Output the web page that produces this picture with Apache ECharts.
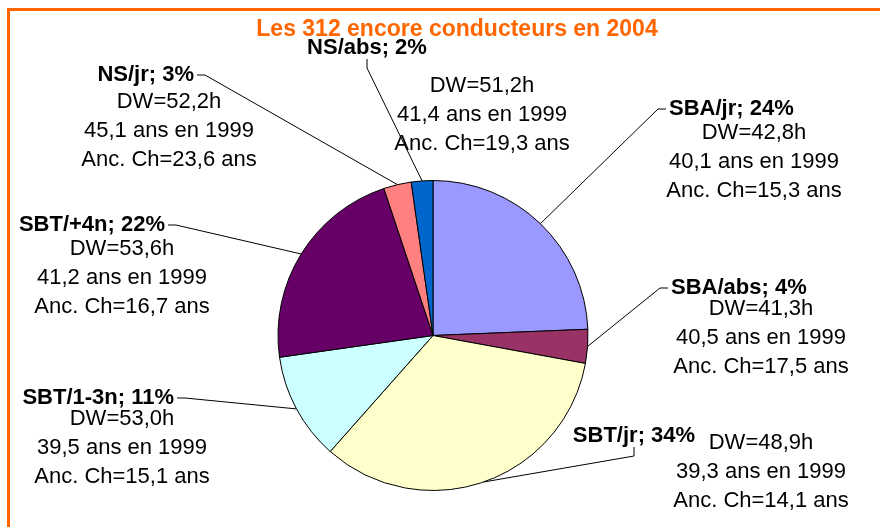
<!DOCTYPE html>
<html>
<head>
<meta charset="utf-8">
<script src="https://cdn.jsdelivr.net/npm/echarts@6/dist/echarts.min.js"></script>
<style>
  html, body { margin: 0; padding: 0; background: #fff; }
  #main { width: 880px; height: 527px; }
</style>
</head>
<body>
<div id="main"></div>
<script>
// categories et valeurs (312 conducteurs)
var names = ['SBA/jr', 'SBA/abs', 'SBT/jr', 'SBT/1-3n', 'SBT/+4n', 'NS/jr', 'NS/abs'];
var counts = [76, 11, 105, 35, 69, 9, 7];
var dwHours = ['42,8', '41,3', '48,9', '53,0', '53,6', '52,2', '51,2'];
var age1999 = ['40,1', '40,5', '39,3', '39,5', '41,2', '45,1', '41,4'];
var ancCh = ['15,3', '17,5', '14,1', '15,1', '16,7', '23,6', '19,3'];
var colors = ['#9999FF', '#993366', '#FFFFCC', '#CCFFFF', '#660066', '#FF8080', '#0066CC'];

// position des etiquettes (nom; %)
var namePos = [
    { x: 669, y: 109, align: 'left', side: 'left' },
    { x: 671, y: 288, align: 'left', side: 'left' },
    { x: 634, y: 436, align: 'center', side: 'bottom' },
    { x: 174, y: 398, align: 'right', side: 'right' },
    { x: 165, y: 225, align: 'right', side: 'right' },
    { x: 194, y: 75, align: 'right', side: 'right' },
    { x: 367, y: 48, align: 'center', side: 'bottom' }
];
// position des details (centre de la 1re ligne)
var infoPos = [
    { x: 754, y: 133 }, { x: 761, y: 309 }, { x: 761, y: 443 },
    { x: 122, y: 419 }, { x: 122, y: 249 }, { x: 169, y: 102 }, { x: 482, y: 86 }
];

var font = 'Liberation Sans, Arial, sans-serif';
var data = names.map(function (n, i) {
    return { name: n, value: counts[i], itemStyle: { color: colors[i] } };
});

var myChart = echarts.init(document.getElementById('main'));

var option = {
    animation: false,
    title: {
        text: 'Les 312 encore conducteurs en 2004',
        left: 452,
        textAlign: 'center',
        top: 13,
        textStyle: { color: '#FF6600', fontSize: 23, fontWeight: 'bold', fontFamily: font }
    },
    graphic: [{
        type: 'polyline',
        shape: { points: [[8.5, 527], [8.5, 9.5], [880, 9.5]] },
        style: { stroke: '#FF6600', lineWidth: 3, fill: null }
    }],
    series: [{
        name: 'conducteurs',
        type: 'pie',
        center: [433, 335.5],
        radius: [0, 155],
        startAngle: 90,
        avoidLabelOverlap: false,
        itemStyle: { borderColor: '#000', borderWidth: 1 },
        emphasis: { disabled: true },
        label: {
            show: true,
            position: 'outside',
            color: '#000',
            fontSize: 22,
            fontWeight: 'bold',
            fontFamily: font,
            formatter: function (p) {
                return p.name + '; ' + Math.round(p.percent) + '%';
            }
        },
        labelLine: { show: true, lineStyle: { color: '#000', width: 1 } },
        labelLayout: function (p) {
            var pos = namePos[p.dataIndex];
            var a = p.labelLinePoints ? p.labelLinePoints[0] : [pos.x, pos.y];
            var h = p.labelRect.height;
            var pts;
            if (pos.side === 'left') {
                pts = [a, [pos.x - 11, pos.y], [pos.x - 3, pos.y]];
            } else if (pos.side === 'right') {
                pts = [a, [pos.x + 11, pos.y], [pos.x + 3, pos.y]];
            } else {
                pts = [a, [pos.x, pos.y + h / 2 + 9], [pos.x, pos.y + h / 2]];
            }
            return {
                x: pos.x, y: pos.y,
                align: pos.align, verticalAlign: 'middle',
                labelLinePoints: pts
            };
        },
        data: data
    }, {
        name: 'details',
        type: 'pie',
        center: [433, 335.5],
        radius: [0, 155],
        startAngle: 90,
        silent: true,
        avoidLabelOverlap: false,
        itemStyle: { color: 'rgba(0,0,0,0)', borderWidth: 0 },
        emphasis: { disabled: true },
        label: {
            show: true,
            position: 'outside',
            color: '#000',
            fontSize: 22,
            lineHeight: 29,
            fontFamily: font,
            align: 'center',
            formatter: function (p) {
                var i = p.dataIndex;
                return 'DW=' + dwHours[i] + 'h\n' + age1999[i] + ' ans en 1999\nAnc. Ch=' + ancCh[i] + ' ans';
            }
        },
        labelLine: { show: false },
        labelLayout: function (p) {
            var pos = infoPos[p.dataIndex];
            return { x: pos.x, y: pos.y - 14.5, align: 'center', verticalAlign: 'top' };
        },
        data: names.map(function (n, i) { return { name: n, value: counts[i] }; })
    }]
};

myChart.setOption(option);
</script>
</body>
</html>
